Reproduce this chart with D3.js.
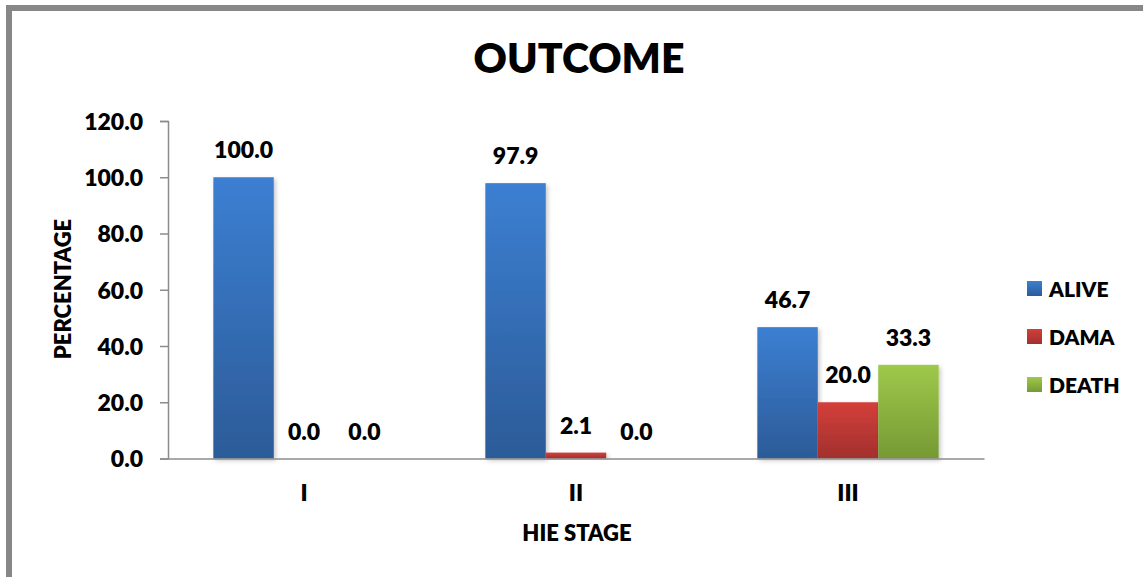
<!DOCTYPE html>
<html>
<head>
<meta charset="utf-8">
<script src="https://cdn.jsdelivr.net/npm/d3@7/dist/d3.min.js"></script>
<style>
  html, body { margin: 0; padding: 0; background: #fff; }
  svg { display: block; }
  text { font-family: Lato, "Open Sans", sans-serif; font-weight: 800; fill: #000; }
</style>
</head>
<body>
<svg id="chart" width="1143" height="577"></svg>
<script>
// Outcome by HIE stage (percent of cases)
const stages = ["I", "II", "III"];
const outcomes = ["ALIVE", "DAMA", "DEATH"];
const alive = [100.0, 97.9, 46.7];
const dama = [0.0, 2.1, 20.0];
const death = [0.0, 0.0, 33.3];
const yTicks = [0, 20, 40, 60, 80, 100, 120];

const seriesValues = [alive, dama, death];
const palette = {
  ALIVE: ["#3c7fd2", "#2c5b98"],
  DAMA:  ["#d33f3b", "#a2302d"],
  DEATH: ["#9ec94b", "#769934"]
};

const svg = d3.select("#chart");
const W = 1143, H = 577;

// outer frame
svg.append("rect").attr("x", 9).attr("y", 8).attr("width", W + 20).attr("height", H + 20)
  .attr("fill", "none").attr("stroke", "#878787").attr("stroke-width", 6);

const defs = svg.append("defs");
outcomes.forEach((k, i) => {
  const g = defs.append("linearGradient").attr("id", "grad" + i)
    .attr("x1", 0).attr("y1", 0).attr("x2", 0).attr("y2", 1);
  g.append("stop").attr("offset", "0%").attr("stop-color", palette[k][0]);
  g.append("stop").attr("offset", "100%").attr("stop-color", palette[k][1]);
});
const shadow = defs.append("filter").attr("id", "shadow")
  .attr("x", "-20%").attr("y", "-5%").attr("width", "150%").attr("height", "120%");
shadow.append("feDropShadow").attr("dx", 2).attr("dy", 2).attr("stdDeviation", 2)
  .attr("flood-color", "#000").attr("flood-opacity", 0.22);

const plot = { left: 168, right: 984, top: 121, bottom: 458.5 };

const x = d3.scaleBand().domain(stages).range([plot.left, plot.right]).paddingInner(0).paddingOuter(0);
const groupW = x.bandwidth() / 1.5;
const xs = d3.scaleBand().domain(outcomes).range([0, groupW]).padding(0);
const y = d3.scaleLinear().domain([0, 120]).range([plot.bottom, plot.top]);

// title
svg.append("text").attr("x", 579).attr("y", 73).attr("text-anchor", "middle")
  .style("font-size", "41px").text("OUTCOME");

// bars
const rows = stages.map((s, i) => outcomes.map((o, j) => ({ stage: s, key: o, idx: j, v: seriesValues[j][i] })));
const groups = svg.append("g").selectAll("g").data(rows).join("g")
  .attr("transform", d => `translate(${x(d[0].stage) + (x.bandwidth() - groupW) / 2},0)`);

groups.selectAll("rect").data(d => d).join("rect")
  .attr("x", d => xs(d.key))
  .attr("width", xs.bandwidth())
  .attr("y", d => y(d.v))
  .attr("height", d => y(0) - y(d.v))
  .attr("fill", d => `url(#grad${d.idx})`)
  .attr("filter", d => d.v > 0 ? "url(#shadow)" : null);

groups.selectAll("text").data(d => d).join("text")
  .attr("x", d => xs(d.key) + xs.bandwidth() / 2)
  .attr("y", d => y(d.v) - 19)
  .attr("text-anchor", "middle")
  .style("font-size", "23px")
  .text(d => d.v.toFixed(1));

// y axis
const yAxis = d3.axisLeft(y).tickValues(yTicks).tickSize(8).tickPadding(17)
  .tickFormat(d => d3.format(".1f")(d));
const yg = svg.append("g").attr("transform", `translate(${plot.left},0)`).call(yAxis);
yg.select(".domain").attr("stroke", "#8c8c8c").attr("stroke-width", 1.5);
yg.selectAll(".tick line").attr("stroke", "#8c8c8c").attr("stroke-width", 1.5);
yg.selectAll(".tick text").style("font-size", "23px").style("font-family", "Lato, sans-serif")
  .style("font-weight", 800).attr("fill", "#000").attr("dy", "0.36em");

// x axis
const xAxis = d3.axisBottom(x).tickSize(0).tickPadding(26);
const xg = svg.append("g").attr("transform", `translate(0,${plot.bottom})`).call(xAxis);
xg.select(".domain").attr("stroke", "#8c8c8c").attr("stroke-width", 1.5);
xg.selectAll(".tick text").style("font-size", "23px").style("font-family", "Lato, sans-serif")
  .style("font-weight", 800).attr("fill", "#000");

// axis titles
svg.append("text").attr("x", 577).attr("y", 541).attr("text-anchor", "middle")
  .style("font-size", "22px").text("HIE STAGE");
svg.append("text").attr("transform", "translate(71,289) rotate(-90)").attr("text-anchor", "middle")
  .style("font-size", "22px").text("PERCENTAGE");

// legend
const legend = svg.append("g").selectAll("g").data(outcomes).join("g")
  .attr("transform", (d, i) => `translate(1027,${281 + i * 48})`);
legend.append("rect").attr("width", 15).attr("height", 15)
  .attr("fill", (d, i) => `url(#grad${i})`);
legend.append("text").attr("x", 22).attr("y", 15.5)
  .style("font-size", "21px").text(d => d);
</script>
</body>
</html>
